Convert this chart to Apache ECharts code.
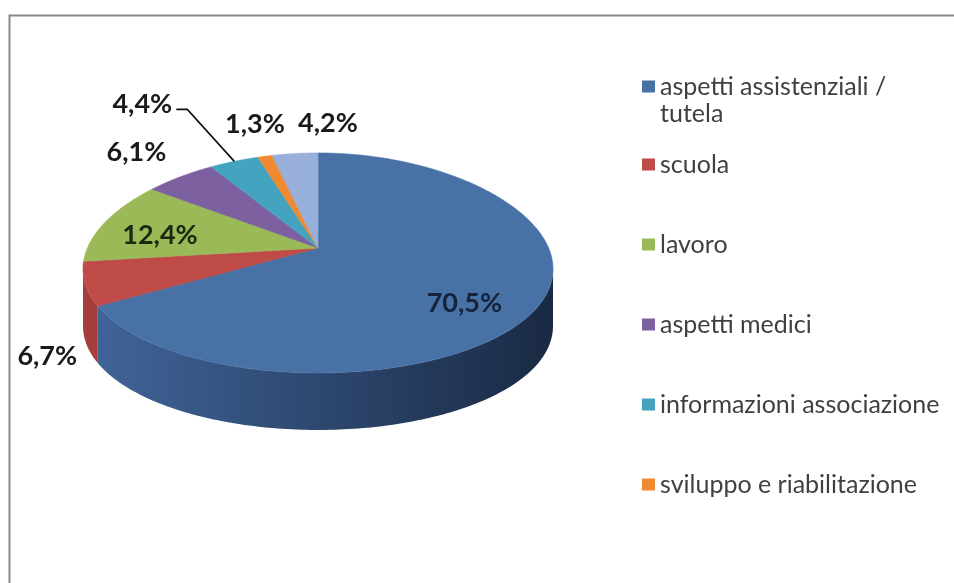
<!DOCTYPE html>
<html>
<head>
<meta charset="utf-8">
<script src="https://cdn.jsdelivr.net/npm/echarts@6/dist/echarts.min.js"></script>
<style>
  html, body { margin: 0; padding: 0; background: #fff; }
  #chart { width: 954px; height: 583px; }
</style>
</head>
<body>
<div id="chart"></div>
<script>
// data
var categories = ['aspetti assistenziali / tutela', 'scuola', 'lavoro', 'aspetti medici',
                  'informazioni associazione', 'sviluppo e riabilitazione', 'altro'];
var values = [70.5, 6.7, 12.4, 6.1, 4.4, 1.3, 4.2];
var legendCount = 6; // the 7th entry does not fit in the legend box

// colours (top face, side light/dark)
var topColors = ['#4871a6', '#be4b48', '#9aba58', '#7d60a0', '#44a3bf', '#f08a30', '#97afd9'];
var sideColors = [['#41659a', '#1a2a44'], ['#a63f3c', '#7a2a28'], ['#7f9a46', '#5d7233'],
                  ['#664c85', '#4a3762'], ['#36869e', '#285f70'], ['#c86e24', '#94511a'], ['#7b91b9', '#5a6b8a']];

// 3d pie geometry
var pie = { cx: 318, cy: 248, rx: 230.6, ry: 110, px: 0.2, py: 0.136, depth: 57 };

// where each data label goes: f = radius fraction, dx/dy = nudge from there
var labelLayout = [
    { f: 0.7, dx: -3, dy: 15, color: '#15233b' },
    { f: 1, dx: -38, dy: 72, color: '#1a1a1a' },
    { f: 0.7, dx: -7, dy: 6, color: '#1c2710' },
    { f: 1, dx: -44, dy: -24, color: '#1a1a1a' },
    { f: 1, dx: -92, dy: -57, color: '#1a1a1a', leader: [[34, 5], [45, 5]] },
    { f: 1, dx: -10, dy: -32, color: '#1a1a1a' },
    { f: 1, dx: 33, dy: -30, color: '#1a1a1a' }
];

var total = values.reduce(function (s, v) { return s + v; }, 0);
var starts = [], sweeps = [];
var acc = 0;
values.forEach(function (v) {
    starts.push(acc / total * Math.PI * 2);
    sweeps.push(v / total * Math.PI * 2);
    acc += v;
});

function fmt(v) {
    return v.toFixed(1).replace('.', ',') + '%';
}

// angle measured clockwise from 12 o'clock, f = fraction of radius
function proj(phi, f) {
    var u = f * Math.sin(phi), v = -f * Math.cos(phi);
    return [pie.cx + pie.rx * u * (1 + pie.px * v), pie.cy + pie.ry * v * (1 + pie.py * v)];
}

// silhouette of the side wall (left/right extremes of the rim)
var vs = (-1 + Math.sqrt(1 + 8 * pie.px * pie.px)) / (4 * pie.px);
var wallMin = Math.acos(-vs), wallMax = Math.PI * 2 - wallMin;

function arcPoints(a1, a2, dy) {
    var n = Math.max(2, Math.ceil((a2 - a1) / (Math.PI / 180)));
    var pts = [];
    for (var k = 0; k <= n; k++) {
        var p = proj(a1 + (a2 - a1) * k / n, 1);
        pts.push([p[0], p[1] + dy]);
    }
    return pts;
}

function topRenderer(i) {
    return function () {
        var a1 = starts[i], a2 = starts[i] + sweeps[i];
        var pts = [[pie.cx, pie.cy]].concat(arcPoints(a1, a2, 0));
        var children = [{
            type: 'polygon',
            shape: { points: pts },
            style: { fill: topColors[i], stroke: topColors[i], lineWidth: 0.6 }
        }];
        var L = labelLayout[i];
        var mid = (a1 + a2) / 2;
        var p = proj(mid, L.f);
        var tx = p[0] + L.dx, ty = p[1] + L.dy;
        if (L.leader) {
            children.push({
                type: 'polyline',
                z2: 10,
                shape: { points: [[tx + L.leader[0][0], ty + L.leader[0][1]], [tx + L.leader[1][0], ty + L.leader[1][1]], proj(mid, 1)] },
                style: { stroke: '#111', lineWidth: 1.6, fill: null }
            });
        }
        children.push({
            type: 'text',
            z2: 20,
            style: {
                text: fmt(values[i]), x: tx, y: ty, align: 'center', verticalAlign: 'middle',
                fill: L.color, font: 'bold 27px Lato'
            }
        });
        return { type: 'group', children: children };
    };
}

function wallRenderer(i) {
    return function () {
        var b1 = Math.max(starts[i], wallMin), b2 = Math.min(starts[i] + sweeps[i], wallMax);
        if (b2 <= b1) return null;
        var upper = arcPoints(b1, b2, 0);
        var lower = arcPoints(b1, b2, pie.depth).reverse();
        return {
            type: 'polygon',
            shape: { points: upper.concat(lower) },
            style: {
                fill: new echarts.graphic.LinearGradient(pie.cx - pie.rx, 0, pie.cx + pie.rx, 0, [
                    { offset: 0, color: sideColors[i][0] },
                    { offset: 1, color: sideColors[i][1] }
                ], true),
                stroke: null
            }
        };
    };
}

var series = [];
categories.forEach(function (name, i) {
    series.push({
        type: 'custom', name: name, coordinateSystem: 'none', z: 3,
        itemStyle: { color: topColors[i] },
        renderItem: topRenderer(i), data: [values[i]]
    });
});
categories.forEach(function (name, i) {
    series.push({
        type: 'custom', name: name, coordinateSystem: 'none', z: 2,
        itemStyle: { color: topColors[i] },
        renderItem: wallRenderer(i), data: [values[i]]
    });
});

var legendText = { fontFamily: 'Lato', fontSize: 25, color: '#404040', lineHeight: 27 };

var myChart = echarts.init(document.getElementById('chart'));
var option = {
    backgroundColor: '#fff',
    animation: false,
    graphic: [{
        type: 'rect', left: 7, top: 13, silent: true,
        shape: { width: 1000, height: 700 },
        style: { fill: null, stroke: '#8a8a8a', lineWidth: 2 }
    }],
    legend: [{
        data: categories.slice(0, 1),
        orient: 'vertical', left: 642, top: 46, padding: 0,
        icon: 'rect', itemWidth: 13, itemHeight: 12,
        // blank first line keeps the marker level with the first text line
        formatter: function (name) { return ' \n' + name.replace('/ ', '/\n'); },
        textStyle: legendText
    }, {
        data: categories.slice(1, legendCount),
        orient: 'vertical', left: 642, top: 151, padding: 0, itemGap: 53,
        icon: 'rect', itemWidth: 13, itemHeight: 12,
        textStyle: legendText
    }],
    series: series
};
myChart.setOption(option);
</script>
</body>
</html>
